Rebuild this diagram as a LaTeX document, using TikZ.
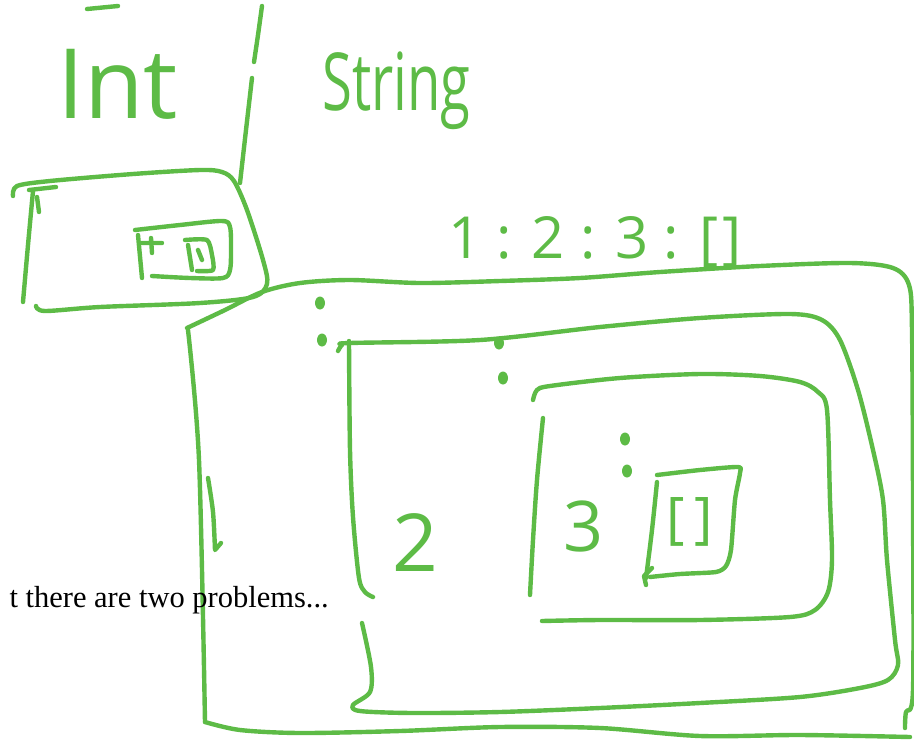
\documentclass[tikz,border=0pt]{standalone}
\usepackage{fontspec}
\setsansfont{Open Sans}
\newfontfamily\proseFont{Liberation Serif}
\usetikzlibrary{positioning, shapes.geometric}
\definecolor{cpen}{HTML}{5DBB46}
\tikzset{
  every picture/.style={line width=4.4pt},
  ink/.style={draw=cpen, line cap=round, line join=round},
  scrawl/.style={text=cpen, inner sep=0pt, font=\sffamily\fontsize{#1}{#1}\selectfont},
  blob/.style={ellipse, fill=cpen, inner sep=0pt, minimum width=10pt, minimum height=13pt},
  prose/.style={inner sep=0pt, font=\proseFont\fontsize{30.5}{30.5}\selectfont},
}

\begin{document}
\begin{tikzpicture}[x=1pt, y=-1pt]
  \useasboundingbox (0,0) rectangle (914,740);
  % the two type names and the bar between them
  \node[scrawl=97, anchor=base west] (int) at (55,118) {Int};
  \node[scrawl=80, anchor=base west] (string) at (320,110) {\scalebox{0.68}[1]{String}};
  \draw[ink] plot[smooth] coordinates {(262,6) (258,35) (254,62)};
  \draw[ink] plot[smooth] coordinates {(252,78) (246,130) (240,183)};
  \draw[ink] (87,9) -- (118,6);
  % small box on the left
  \draw[ink] plot[smooth, tension=0.5] coordinates {(13,196) (17,186) (50,181) (133,174) (200,170) (222,172) (234,181) (247,210) (263,260) (267,284) (253,297) (200,303) (100,307) (45,311) (36,306)};
  \draw[ink] plot[smooth] coordinates {(33,191) (28,245) (23,302)};
  \draw[ink] (29,190) -- (56,187) (37,197) -- (39,212);
  \draw[ink] plot[smooth, tension=0.5] coordinates {(135,230) (180,225) (222,221) (230,227) (231,250) (230,270) (223,278) (190,278) (152,276)};
  \draw[ink] (138,235) -- (142,278);
  \draw[ink] (151,238) -- (152,253) (140,243) -- (162,243);
  \draw[ink] plot[smooth, tension=0.4] coordinates {(185,240) (207,240) (212,255) (213,270) (197,271)};
  \draw[ink] (188,245) -- (192,270) (198,250) -- (202,260);
  % the list written out
  \node[scrawl=58, anchor=base west] (cons) at (446,258) {1 : 2 : 3 : [\kern4pt]};
  % outer box (1)
  \draw[ink] plot[smooth, tension=0.5] coordinates {(187,328) (225,310) (262,292) (300,283) (350,280) (420,283) (500,281) (580,278) (660,272) (760,266) (850,263) (893,268) (909,285) (912,330) (913,500) (913,690) (906,712) (905,728)};
  \draw[ink] plot[smooth, tension=0.5] coordinates {(910,737) (800,735) (700,736) (600,728) (500,727) (400,731) (300,733) (240,730) (205,722)};
  \draw[ink] plot[smooth] coordinates {(188,330) (199,460) (205,722)};
  \draw[ink] plot[smooth] coordinates {(208,478) (213,512) (215,550)} -- (221,543);
  % middle box (2)
  \draw[ink] plot[smooth, tension=0.5] coordinates {(338,351) (342,345) (350,343) (480,340) (600,327) (700,318) (790,314) (822,320) (840,340) (858,390) (873,450) (883,500) (887,560) (895,640) (898,665) (888,680) (860,688) (800,697) (700,703) (600,708) (500,712) (413,713) (360,711) (353,705) (370,692) (371,667) (362,623)};
  \draw[ink] plot[smooth] coordinates {(349,341) (350,450) (353,517) (359,578) (365,592) (373,597)};
  \node[scrawl=80] (two) at (415,543) {2};
  % inner box (3)
  \draw[ink] plot[smooth, tension=0.5] coordinates {(533,400) (537,390) (550,386) (620,378) (700,374) (760,376) (800,382) (818,392) (827,410) (830,500) (832,560) (828,592) (815,610) (790,617) (700,620) (600,620) (542,621)};
  \draw[ink] plot[smooth] coordinates {(543,418) (537,480) (533,540) (530,595)};
  \node[scrawl=70] (three) at (584,526) {3};
  % empty list box
  \draw[ink] plot[smooth, tension=0.4] coordinates {(657,475) (700,470) (738,467) (740,473) (735,500) (731,550) (726,566) (716,572) (680,574) (650,577)};
  \draw[ink] plot[smooth] coordinates {(657,482) (652,530) (646,578)};
  \draw[ink] (652,568) -- (644,576) -- (646,585);
  \node[scrawl=56] (nil) at (690,522) {[\kern10pt]};
  % colons
  \foreach \i/\x/\y in {1/320/303, 2/322/340, 3/499/343, 4/503/378, 5/625/439, 6/627/471}
    \node[blob] (colon\i) at (\x,\y) {};
  % page text behind the sketch
  \node[prose, anchor=base east] (line) at (331,607) {t there are two problems...};
\end{tikzpicture}
\end{document}
